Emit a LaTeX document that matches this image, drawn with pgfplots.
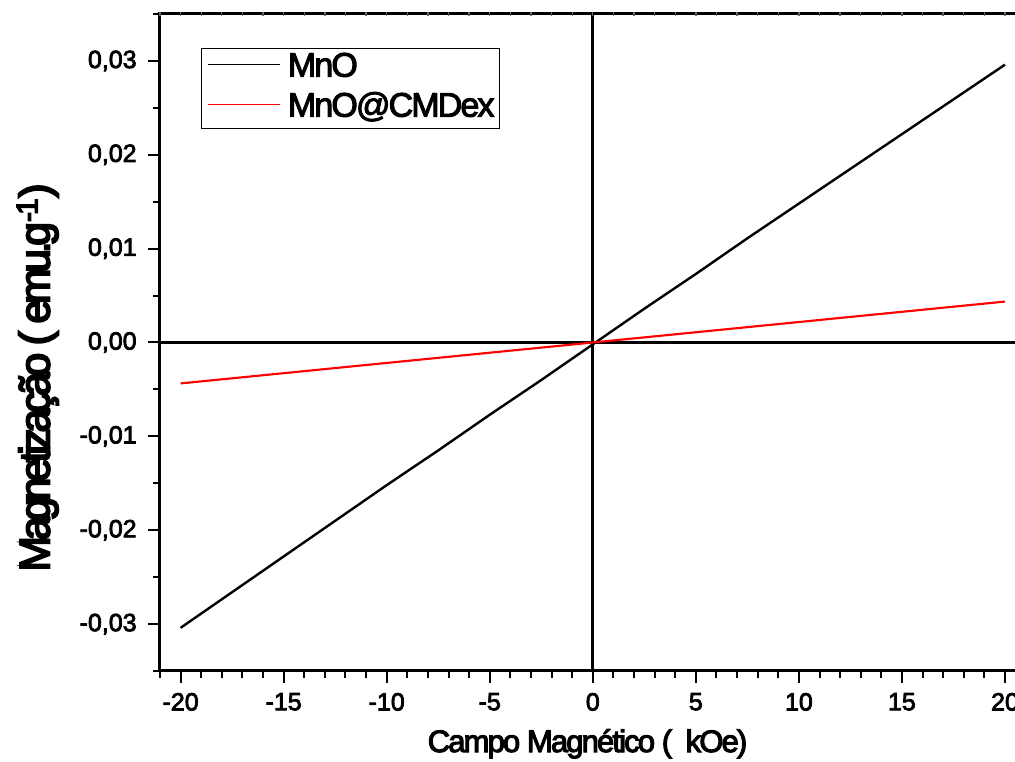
\documentclass[border=0pt]{standalone}
\usepackage{pgfplots}
\pgfplotsset{compat=1.18}
\usepackage{fontspec}
\setmainfont{Liberation Sans}[FakeBold=3]
\newfontfamily\xlabfont{Liberation Sans}[LetterSpace=-6, FakeBold=3.5]
\newfontfamily\ylabfont{Liberation Sans}[LetterSpace=-10, FakeBold=4.5]
\newfontfamily\legfont{Liberation Sans}[LetterSpace=-5.5, FakeBold=3]

\begin{document}
\begin{tikzpicture}
\begin{axis}[
  name=ax,
  scale only axis,
  width=649.2pt, height=492.75pt,
  xmin=-21, xmax=21,
  ymin=-0.035, ymax=0.035,
  scaled y ticks=false,
  axis line style={line width=2.25pt, black},
  tick align=outside,
  xtick pos=bottom, ytick pos=left,
  major tick length=9pt, minor tick length=5pt,
  tick style={line width=1.5pt, black},
  xtick={-20,-15,...,20},
  minor xtick={-21,-20,...,21},
  ytick={-0.03,-0.02,-0.01,0,0.01,0.02,0.03},
  minor ytick={-0.035,-0.025,-0.015,-0.005,0.005,0.015,0.025,0.035},
  /pgf/number format/assume math mode=true,
  ticklabel style={font=\fontsize{18.75}{22}\selectfont},
  yticklabel style={/pgf/number format/fixed, /pgf/number format/fixed zerofill,
    /pgf/number format/precision=2, /pgf/number format/use comma, xshift=-5pt},
  xticklabel style={/pgf/number format/fixed, /pgf/number format/precision=0, yshift=-4pt},
  xlabel={Campo Magnético (\ \ kOe)},
  ylabel={Magnetização ( emu.g\textsuperscript{-1})},
  xlabel style={font=\xlabfont\fontsize{23.25}{26}\selectfont,
    at={(axis description cs:0.4939,-0.1233)}, anchor=base},
  ylabel style={font=\ylabfont\fontsize{32}{36}\selectfont,
    at={(axis description cs:-0.1277,0.4467)}, anchor=base},
  legend style={at={(rel axis cs:0.0474,0.948)}, anchor=north west,
    draw=black, line width=0.75pt, fill=white,
    inner xsep=4pt, inner ysep=0pt,
    font=\legfont\fontsize{25.5}{28}\selectfont,
    nodes={inner sep=0pt, text height=21pt, text depth=9pt, anchor=base west},
    /tikz/every even column/.append style={column sep=0pt}},
  legend cell align=left,
  legend image code/.code={
    \draw[#1, line width=1pt] (0pt,9pt) -- (54pt,9pt);
    \path (0pt,0pt) (59pt,0pt);},
]
% zero reference lines
\draw[line width=2.25pt, black] (axis cs:0,-0.035) -- (axis cs:0,0.035);
\draw[line width=2.25pt, black] (axis cs:-21,0) -- (axis cs:21,0);

\addplot[black, line width=1.8pt] coordinates {
  (-20,-0.0304) (-17.5,-0.0266) (-15,-0.0228) (-12.5,-0.0190) (-10,-0.0152)
  (-7.5,-0.0115) (-5,-0.0077) (-2.5,-0.0040) (0,-0.0002) (2.5,0.0036)
  (5,0.0073) (7.5,0.0111) (10,0.0148) (12.5,0.0185) (15,0.0222)
  (17.5,0.0259) (20,0.0296)};
\addlegendentry{MnO}

\addplot[red, line width=1.6pt] coordinates {
  (-20,-0.00436) (-15,-0.00327) (-10,-0.00218) (-5,-0.00109) (0,0.00000)
  (5,0.00109) (10,0.00218) (15,0.00327) (20,0.00436)};
\addlegendentry{MnO@CMDex}
\end{axis}

% short ticks along the top edge
\begin{axis}[
  scale only axis,
  width=649.2pt, height=492.75pt,
  xmin=-21, xmax=21, ymin=-0.035, ymax=0.035,
  axis x line*=top, hide y axis,
  axis line style={draw=none},
  xtick={-21,-20,...,21}, xticklabels={},
  major tick length=3pt, tick align=center,
  tick style={line width=1pt, black!60},
]
\end{axis}

\pgfresetboundingbox
\path[use as bounding box] ([xshift=-120pt,yshift=-68.25pt]ax.south west)
  rectangle ([xshift=641.25pt,yshift=503.25pt]ax.south west);
\end{tikzpicture}
\end{document}
